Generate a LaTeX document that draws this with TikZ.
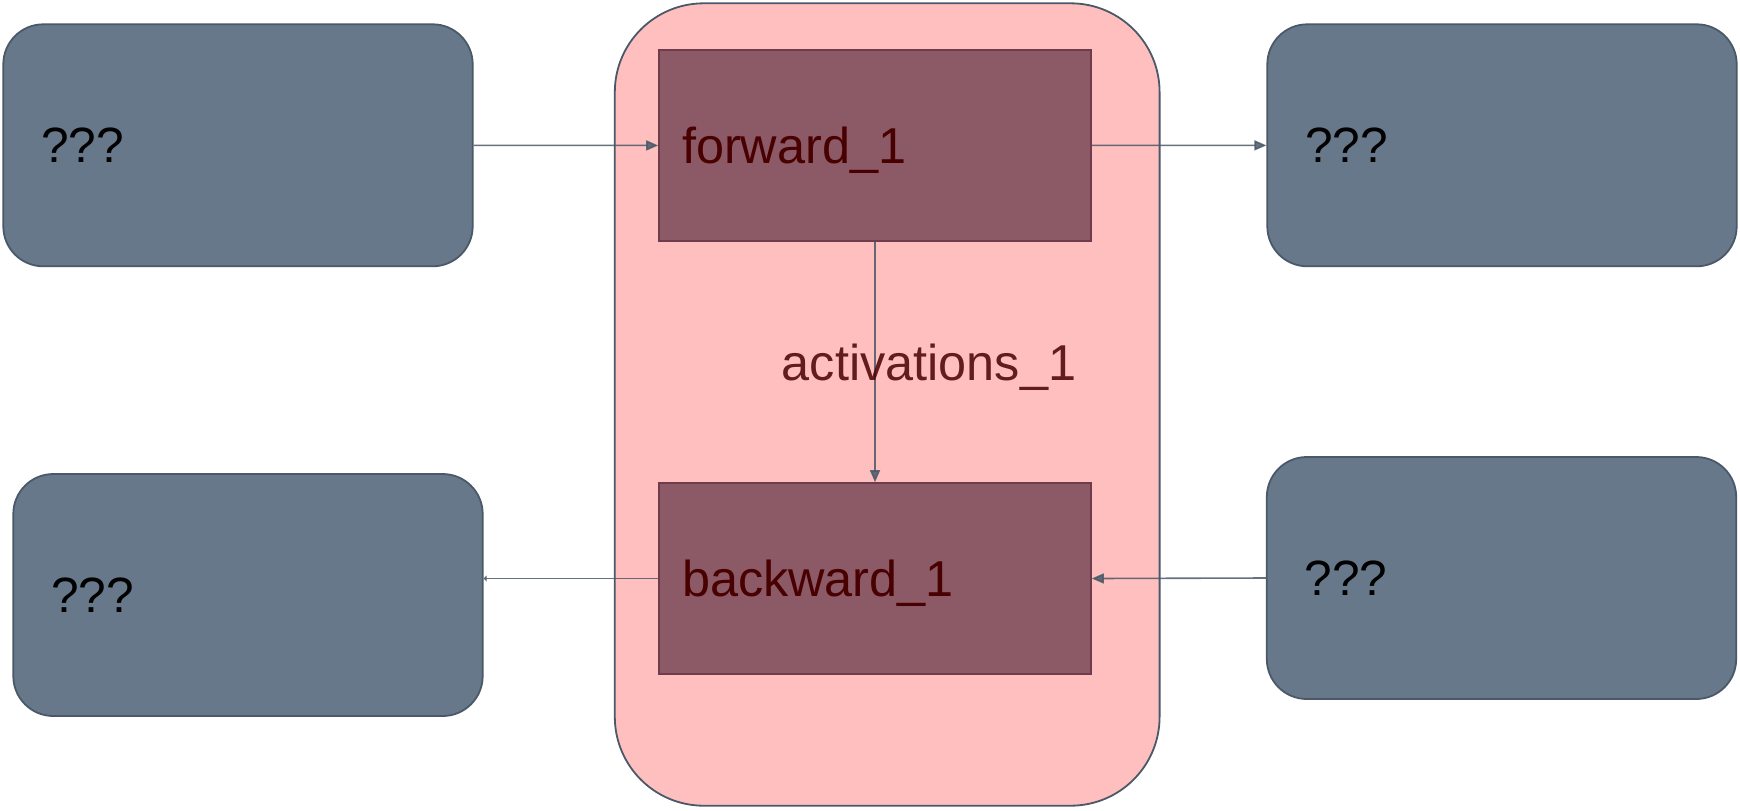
\documentclass[tikz,border=0pt]{standalone}
\usepackage{fontspec}
\setmainfont{Liberation Sans}
\usetikzlibrary{arrows.meta,positioning,calc}
\definecolor{SlateBox}{RGB}{102,120,137}
\definecolor{SlateLine}{RGB}{74,88,104}
\definecolor{PinkFill}{RGB}{255,191,191}
\definecolor{PlumFill}{RGB}{140,89,102}
\definecolor{PlumLine}{RGB}{110,60,76}
\definecolor{DarkRed}{RGB}{72,0,0}
\tikzset{
  qbox/.style={draw=SlateLine,fill=SlateBox,rounded corners=20pt,
               minimum width=234.7pt,minimum height=121pt,
               text width=197pt,align=left,inner xsep=18.5pt,
               font=\fontsize{24.8}{29}\selectfont,line width=0.9pt},
  stagebox/.style={draw=PlumLine,fill=PlumFill,
               minimum width=216pt,minimum height=95.5pt,
               text width=193pt,align=left,inner xsep=11.5pt,text=DarkRed,
               text depth=0pt,font=\fontsize{25.2}{29}\selectfont,line width=0.8pt},
  arr/.style={-{Triangle[length=6pt,width=5pt]},SlateLine,line width=0.8pt,draw opacity=0.85,fill opacity=0.85},
}
\begin{document}
\begin{tikzpicture}[x=0.5pt,y=-0.5pt,
    stage/.style={draw=SlateLine,fill=PinkFill,rounded corners=44.5pt,
                  minimum width=272.4pt,minimum height=401.2pt,line width=0.9pt}
  ]
  \useasboundingbox (0,0) rectangle (1740,810);
  \node[stage] (worker) at (887.2,404.5) {};
  \node[stagebox] (fwd) at (875,145.5) {forward\_1};
  \node[stagebox] (bwd) at (875,578.5) {backward\_1};

  \node[qbox] (inTop) at (238,145.3) {???};
  \node[qbox] (outBot) at (248,595) {???};
  \node[qbox] (outTop) at (1502,145.3) {???};
  \node[qbox] (inBot) at (1501.5,578) {???};

  \draw[arr] (inTop) -- (fwd);
  \draw[arr] (fwd) -- (outTop);
  \draw[arr] (fwd) -- node[pos=0.5,xshift=27pt,text=DarkRed,text depth=0pt,font=\fontsize{25.2}{29}\selectfont]{activations\_1} (bwd);
  \draw[arr] (inBot.west) -- (bwd.east);
  \draw[arr,-{Triangle[length=1.5pt,width=3pt]}] (bwd.west) -- (bwd.west -| outBot.east);
\end{tikzpicture}
\end{document}
